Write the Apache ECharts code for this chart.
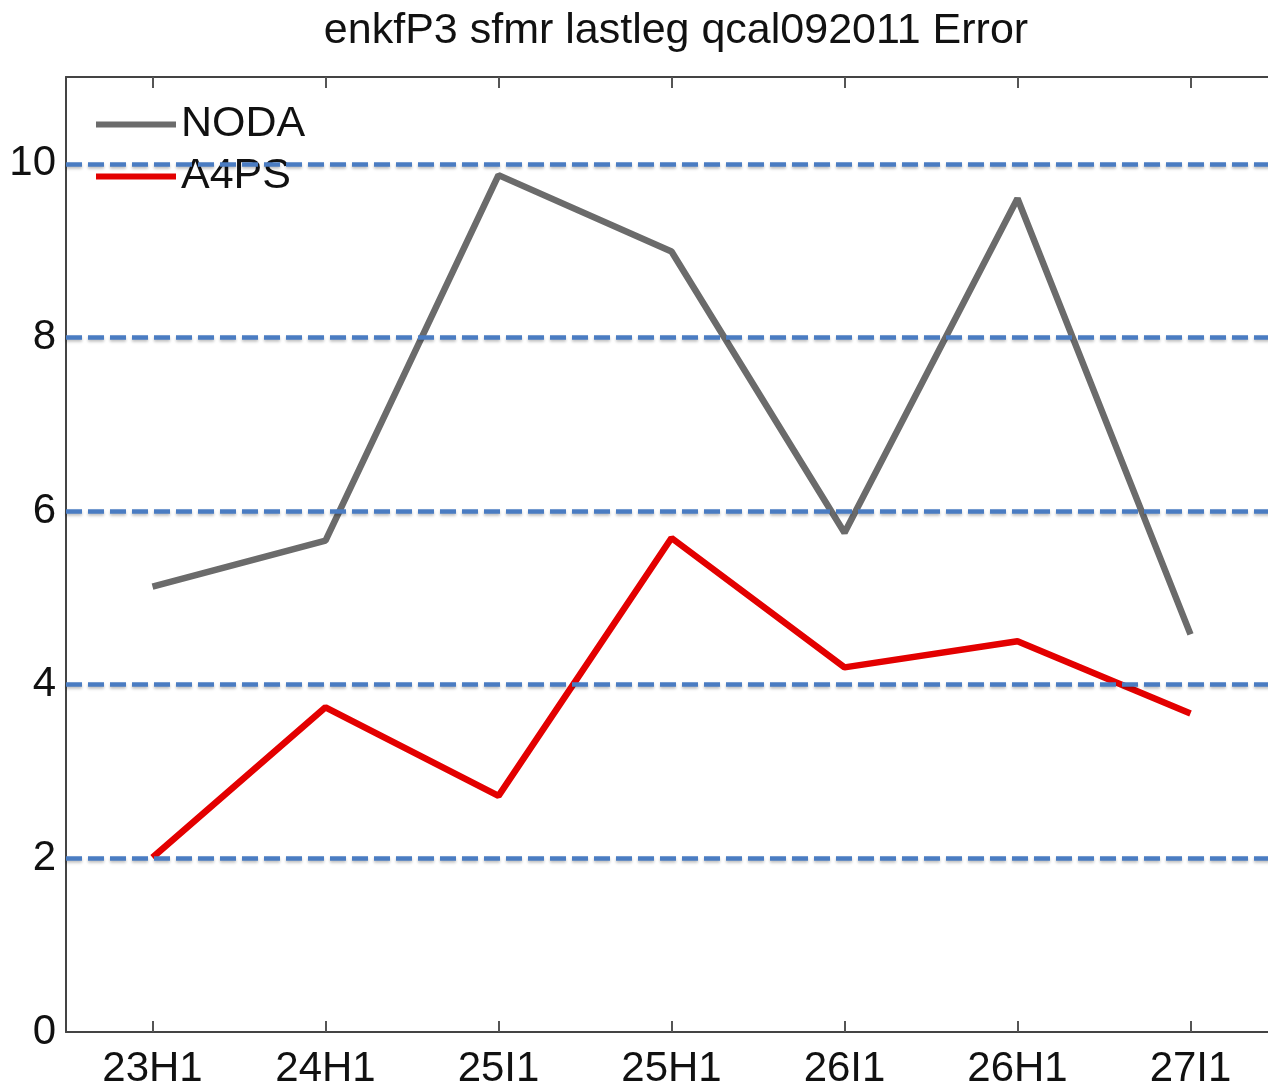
<!DOCTYPE html>
<html>
<head>
<meta charset="utf-8">
<script src="https://cdn.jsdelivr.net/npm/echarts@6/dist/echarts.min.js"></script>
<style>
  html, body { margin: 0; padding: 0; background: #fff; }
  #main { width: 1268px; height: 1088px; }
</style>
</head>
<body>
<div id="main"></div>
<script>
// categories along the x axis
var cycles = ['23H1', '24H1', '25I1', '25H1', '26I1', '26H1', '27I1']
// error values
var noda = [5.13, 5.66, 9.87, 8.99, 5.75, 9.60, 4.58]
var a4ps = [2.01, 3.74, 2.72, 5.69, 4.20, 4.50, 3.67]
// dashed reference levels
var refLevels = [2, 4, 6, 8, 10]

var font = 'Liberation Sans, Arial, Helvetica, sans-serif'
var myChart = echarts.init(document.getElementById('main'))

var option = {
  backgroundColor: '#ffffff',
  animation: false,
  title: {
    text: 'enkfP3 sfmr lastleg qcal092011 Error',
    left: 671,
    top: 5,
    textAlign: 'center',
    textStyle: {
      fontFamily: font,
      fontSize: 43,
      fontWeight: 'normal',
      color: '#111'
    }
  },
  legend: {
    data: ['NODA', 'A4PS'],
    orient: 'vertical',
    left: 91,
    top: 98,
    icon: 'rect',
    itemWidth: 80,
    itemHeight: 6,
    itemGap: 9,
    textStyle: {
      fontFamily: font,
      fontSize: 43,
      color: '#111'
    }
  },
  grid: {
    left: 66,
    top: 77,
    width: 1211,
    bottom: 56,
    containLabel: false,
    outerBoundsMode: 'none'
  },
  xAxis: [{
    type: 'category',
    data: cycles,
    boundaryGap: true,
    position: 'bottom',
    axisLine: { lineStyle: { color: '#444', width: 2 } },
    axisTick: { show: true, alignWithLabel: true, inside: true, length: 11, lineStyle: { color: '#555', width: 2 } },
    axisLabel: { margin: 16, fontFamily: font, fontSize: 42, color: '#111' },
    splitLine: { show: false }
  }, {
    type: 'category',
    data: cycles,
    boundaryGap: true,
    position: 'top',
    axisLine: { lineStyle: { color: '#444', width: 2 } },
    axisTick: { show: true, alignWithLabel: true, inside: true, length: 11, lineStyle: { color: '#555', width: 2 } },
    axisLabel: { show: false },
    splitLine: { show: false }
  }],
  yAxis: {
    type: 'value',
    min: 0,
    max: 11,
    interval: 2,
    axisLine: { show: true, lineStyle: { color: '#444', width: 2 } },
    axisTick: { show: false },
    axisLabel: {
      margin: 10,
      fontFamily: font,
      fontSize: 42,
      color: '#111',
      showMaxLabel: false,
      formatter: function(v) {
        return v > 10 ? '' : v
      }
    },
    splitLine: { show: false }
  },
  series: [{
    name: 'NODA',
    type: 'line',
    data: noda,
    symbol: 'none',
    lineStyle: { color: '#6b6b6b', width: 6.5 },
    itemStyle: { color: '#6b6b6b' },
    z: 3
  }, {
    name: 'A4PS',
    type: 'line',
    data: a4ps,
    symbol: 'none',
    lineStyle: { color: '#e30000', width: 6.5 },
    itemStyle: { color: '#e30000' },
    z: 3
  }, {
    name: 'ref',
    type: 'line',
    data: [],
    z: 4,
    markLine: {
      silent: true,
      symbol: 'none',
      label: { show: false },
      lineStyle: {
        color: '#4a7cc2',
        width: 4.5,
        type: [16, 6],
        shadowColor: 'rgba(0,0,0,0.25)',
        shadowBlur: 3,
        shadowOffsetY: 2
      },
      data: refLevels.map(function(v) {
        return { yAxis: v }
      })
    }
  }]
}

myChart.setOption(option)
</script>
</body>
</html>
